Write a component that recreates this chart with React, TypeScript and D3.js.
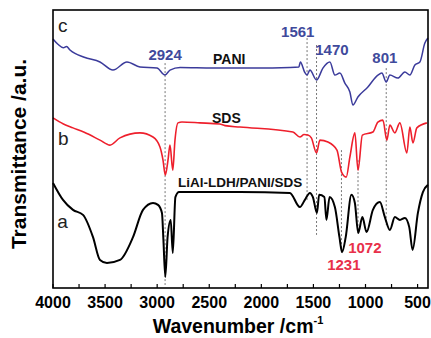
import React from "react";
import * as d3 from "d3";

// wavenumber (cm-1), transmittance (a.u.)
const curveA: [number, number][] = [
  [4000, 37.8], [3904, 31.7], [3808, 28.1], [3712, 26.3], [3616, 18.3], [3549, 10.1], [3482, 9.0],
  [3357, 10.1], [3232, 18.3], [3136, 28.1], [3040, 30.6], [2992, 29.9], [2954, 27.0], [2940, 17.3],
  [2922, 4.0], [2900, 18.3], [2870, 24.5], [2850, 12.6], [2825, 32.7], [2790, 34.5], [2205, 34.5],
  [1726, 34.2], [1630, 29.1], [1582, 31.7], [1534, 34.2], [1505, 32.7], [1466, 27.0], [1445, 33.5],
  [1395, 32.7], [1375, 24.5], [1345, 32.7], [1294, 29.1], [1250, 18.3], [1225, 12.9], [1190, 18.3],
  [1135, 33.5], [1102, 30.6], [1070, 19.8], [1030, 25.5], [990, 20.1], [929, 28.1], [862, 30.9],
  [814, 25.5], [766, 20.9], [718, 25.5], [670, 24.5], [622, 25.2], [580, 21.9], [548, 13.7],
  [497, 27.0], [449, 34.5], [401, 37.1],
];

const curveB: [number, number][] = [
  [4000, 61.2], [3900, 59.0], [3808, 57.6], [3700, 56.0], [3549, 53.2], [3453, 51.4], [3357, 54.0],
  [3165, 55.8], [3040, 54.3], [2973, 50.7], [2944, 46.0], [2922, 40.6], [2896, 46.0], [2877, 51.4],
  [2850, 42.4], [2829, 53.2], [2800, 59.4], [2762, 59.7], [2589, 59.4], [2400, 59.0], [2349, 58.4],
  [2205, 57.9], [1697, 56.1], [1630, 54.3], [1590, 55.2], [1553, 55.0], [1520, 54.0], [1470, 48.6],
  [1438, 53.2], [1361, 52.5], [1274, 49.6], [1230, 41.7], [1185, 39.9], [1150, 47.1], [1102, 55.8],
  [1072, 42.4], [1030, 55.0], [929, 56.1], [881, 59.7], [833, 60.4], [795, 53.2], [766, 58.6],
  [718, 55.8], [670, 59.4], [603, 48.6], [574, 57.9], [545, 52.2], [507, 57.6], [411, 59.4],
];

const curveC: [number, number][] = [
  [4000, 89.6], [3950, 87.6], [3900, 86.4], [3870, 86.9], [3837, 85.6], [3700, 83.0], [3549, 81.3],
  [3424, 78.4], [3290, 81.3], [3165, 79.5], [3002, 79.1], [2925, 76.6], [2877, 78.4], [2780, 79.3],
  [2464, 79.1], [2061, 79.1], [1726, 79.3], [1640, 79.5], [1625, 81.3], [1585, 77.7], [1561, 76.6],
  [1534, 78.4], [1470, 74.8], [1409, 79.1], [1342, 81.3], [1294, 76.6], [1246, 77.3], [1198, 73.7],
  [1150, 70.5], [1121, 65.8], [1073, 68.7], [977, 72.3], [881, 76.6], [843, 77.3], [801, 74.1],
  [766, 76.6], [689, 75.5], [622, 77.7], [574, 76.6], [526, 80.2], [478, 81.3], [430, 88.1],
  [401, 89.9],
];

const tickLabels = [4000, 3500, 3000, 2500, 2000, 1500, 1000, 500];
const tickValues = d3.range(4000, 399, -250);

// reference lines: wavenumber, top value, bottom value
const refLines: [number, number, number][] = [
  [2924, 80.9, 1.1], [1561, 89.9, 31.7], [1470, 87.4, 19.1], [801, 79.1, 22.7],
  [1231, 49.6, 13.7], [1072, 46.0, 19.8],
];

// peak labels: text, wavenumber, value, colour
const peakLabels: [string, number, number, string][] = [
  ["2924", 2924, 82.0, "#3f4a9c"], ["1561", 1650, 90.3, "#3f4a9c"], ["1470", 1322, 83.8, "#3f4a9c"],
  ["801", 814, 80.9, "#3f4a9c"], ["1231", 1208, 6.5, "#e8304a"], ["1072", 1006, 12.6, "#e8304a"],
];

// sample labels: text, wavenumber, value, font size
const sampleLabels: [string, number, number, number][] = [
  ["PANI", 2464, 80.6, 14], ["SDS", 2474, 59.4, 14], ["LiAl-LDH/PANI/SDS", 2800, 36.3, 13.5],
];
const curveLetters: [string, number, number][] = [["c", 3952, 92.1], ["b", 3952, 51.4], ["a", 3960, 21.6]];

const W = 431, H = 338;
const M = { left: 53, right: 3, top: 10, bottom: 50 };
const FONT = "'Liberation Sans', Arial, sans-serif";

export default function App() {
  const x = d3.scaleLinear().domain([4000, 400]).range([M.left, W - M.right]);
  const y = d3.scaleLinear().domain([0, 100]).range([H - M.bottom, M.top]);
  const line = d3.line<[number, number]>().x(d => x(d[0])).y(d => y(d[1])).curve(d3.curveMonotoneX);
  const x0 = M.left, x1 = W - M.right, y0 = H - M.bottom, y1 = M.top;

  return (
    <svg width={W} height={H} style={{ position: "absolute", left: 0, top: 0, background: "#fff" }} fontFamily={FONT}>
      {refLines.map(([wn, a, b], i) => (
        <line key={"r" + i} x1={x(wn)} x2={x(wn)} y1={y(a)} y2={y(b)} stroke="#777" strokeWidth={1} strokeDasharray="2,2" />
      ))}
      <path d={line(curveC) || ""} fill="none" stroke="#3b3b9b" strokeWidth={1.5} />
      <path d={line(curveB) || ""} fill="none" stroke="#ee1f2c" strokeWidth={1.6} />
      <path d={line(curveA) || ""} fill="none" stroke="#000" strokeWidth={2} />
      <rect x={x0} y={y1} width={x1 - x0} height={y0 - y1} fill="none" stroke="#000" strokeWidth={1.6} />
      {tickValues.map(t => (
        <line key={"t" + t} x1={x(t)} x2={x(t)} y1={y0} y2={y0 - 4} stroke="#000" strokeWidth={1.2} />
      ))}
      {tickLabels.map(t => (
        <text key={"l" + t} x={x(t)} y={y0 + 20} textAnchor="middle" fontSize={16} fontWeight="bold">{t}</text>
      ))}
      {peakLabels.map(([s, wn, v, c]) => (
        <text key={"p" + s} x={x(wn)} y={y(v)} textAnchor="middle" fontSize={15} fontWeight="bold" fill={c}>{s}</text>
      ))}
      {sampleLabels.map(([s, wn, v, fs]) => (
        <text key={"s" + s} x={x(wn)} y={y(v)} fontSize={fs} fontWeight="bold" fill="#111">{s}</text>
      ))}
      {curveLetters.map(([s, wn, v]) => (
        <text key={"c" + s} x={x(wn)} y={y(v)} fontSize={19} fill="#222">{s}</text>
      ))}
      <text x={238} y={H - 5} textAnchor="middle" fontSize={19.5} fontWeight="bold">
        Wavenumber /cm<tspan fontSize={11} dy={-9}>-1</tspan>
      </text>
      <text transform={`translate(26,${(y0 + y1) / 2 + 5}) rotate(-90)`} textAnchor="middle" fontSize={21} fontWeight="bold">
        Transmittance /a.u.
      </text>
    </svg>
  );
}
